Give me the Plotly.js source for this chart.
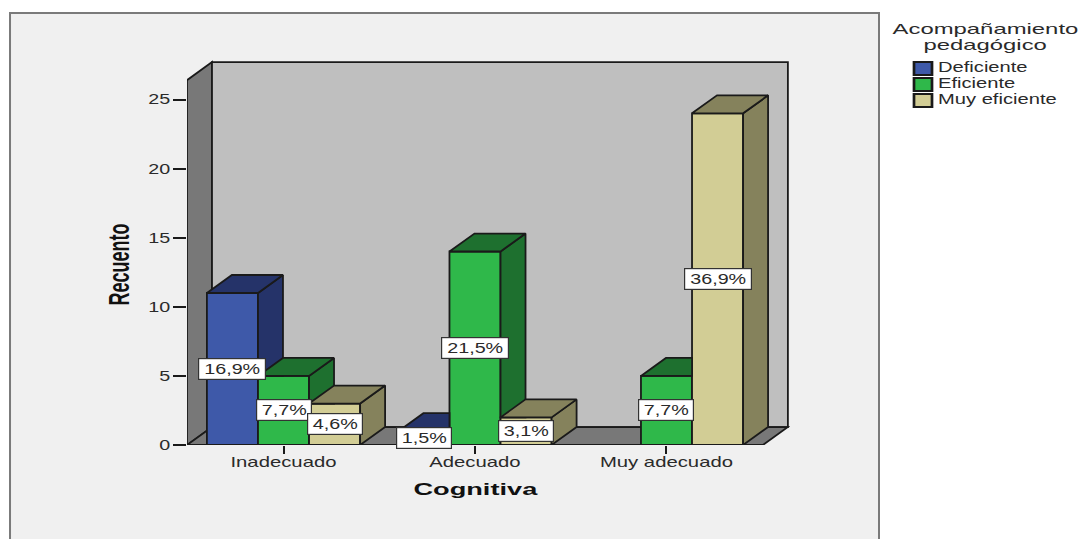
<!DOCTYPE html>
<html><head><meta charset="utf-8">
<script src="https://cdn.plot.ly/plotly-3.0.1.min.js"></script>
<style>html,body{margin:0;padding:0;background:#fff;overflow:hidden}
#c{width:1082px;height:539px}
.legendtext{font-size:14px !important;translate:-5px 0}
.legend .traces:nth-child(1){translate:0 -6px}
.legend .traces:nth-child(2){translate:0 -9px}
.legend .traces:nth-child(3){translate:0 -12px}
.legend .scrollbox{clip-path:none !important}
.xtitle{translate:-13px 0}
.ytitle{translate:0 12px}
</style></head><body><div id="c"></div>
<script>
// ---- data ----
const categories = ["Inadecuado", "Adecuado", "Muy adecuado"];
const seriesNames = ["Deficiente", "Eficiente", "Muy eficiente"];
const deficiente = [11, 1, 0];
const eficiente = [5, 14, 5];
const muyEficiente = [3, 2, 24];
const pctDeficiente = ["16,9%", "1,5%", ""];
const pctEficiente = ["7,7%", "21,5%", "7,7%"];
const pctMuyEficiente = ["4,6%", "3,1%", "36,9%"];
const frontColors = ["#3e59a9", "#2fb84a", "#d2cd95"];
const darkColors = ["#253369", "#1e702f", "#85825c"];

const values = [deficiente, eficiente, muyEficiente];
const pcts = [pctDeficiente, pctEficiente, pctMuyEficiente];
const catIdx = categories.map((_, i) => i);

// ---- geometry in axis units ----
const xMin = -0.504, xMax = 2.645, yMax = 27.858;
const barW = 0.8 / 3, dx = 0.1305, dy = 1.3;
const edge = "#1a1a1a", font = "Liberation Sans", txt = "#2a2a2a";

const data = [];
seriesNames.forEach((name, s) => data.push({
  type: "bar", name, x: catIdx, y: values[s],
  marker: {color: frontColors[s], line: {color: edge, width: 1.8}},
  hoverinfo: "y"
}));
function poly(xs, ys, color) {
  data.push({type: "scatter", mode: "lines", x: [...xs, xs[0]], y: [...ys, ys[0]], fill: "toself",
    fillcolor: color, line: {color: edge, width: 1.8}, showlegend: false, hoverinfo: "skip"});
}
catIdx.forEach(c => {
  seriesNames.forEach((_, s) => {
    const h = values[s][c];
    if (!h) return;
    const x0 = c - 1.5 * barW + s * barW, x1 = x0 + barW;
    const next = s < 2 ? values[s + 1][c] : 0;
    if (h > next) {
      poly([x1, x1 + dx, x1 + dx, x1], [h, h + dy, next || dy, next], darkColors[s]);
      poly([x0, x0 + dx, x1 + dx, x1], [h, h + dy, h + dy, h], darkColors[s]);
    } else {
      poly([x0, x0 + dx, x1, x1], [h, h + dy, h + dy, h], darkColors[s]);
    }
  });
});

const annotations = [];
seriesNames.forEach((_, s) => catIdx.forEach(c => {
  const label = pcts[s][c];
  if (!label) return;
  annotations.push({x: c - barW + s * barW, y: values[s][c] / 2, xref: "x", yref: "y", text: label, showarrow: false,
    width: 12 * label.length + 6, height: 20, align: "center", valign: "middle",
    bgcolor: "#fff", bordercolor: "#333", borderwidth: 1.2, borderpad: 0, font: {family: font, size: 14, color: txt}});
}));
const legendTitleLines = ["Acompañamiento", "pedagógico"];
legendTitleLines.forEach((line, i) => annotations.push({
  xref: "paper", yref: "paper", x: 1.325, y: i ? 1.0391 : 1.0818, xanchor: "center", yanchor: "middle",
  text: line, showarrow: false, font: {family: font, size: 14, color: txt}}));

const shapes = [
  {type: "rect", xref: "paper", yref: "paper", x0: -0.2935, x1: 1.1476, y0: 1.122, y1: -0.3, layer: "below",
   fillcolor: "#f0f0f0", line: {color: "#7a7a7a", width: 2}},
  {type: "path", layer: "below", fillcolor: "#787878", line: {color: edge, width: 1.8},
   path: `M${xMin} 0 L${xMin} 26.4 L${xMin + dx} 27.71 L${xMin + dx} ${dy} Z`},
  {type: "rect", layer: "below", fillcolor: "#bfbfbf", line: {color: edge, width: 1.8},
   x0: xMin + dx, x1: 2.634, y0: dy, y1: 27.71},
  {type: "path", layer: "below", fillcolor: "#787878", line: {color: edge, width: 1.8},
   path: `M${xMin} 0 L${xMin + dx} ${dy} L2.634 ${dy} L${2.634 - dx} 0 Z`}
];

const layout = {
  width: 1082, height: 539, showlegend: true,
  margin: {l: 187, r: 292, t: 60, b: 94, pad: 0},
  paper_bgcolor: "#fff", plot_bgcolor: "rgba(0,0,0,0)",
  barmode: "group", bargap: 0.2, bargroupgap: 0,
  xaxis: {type: "linear", range: [xMin, xMax], tickvals: catIdx, ticktext: categories, showgrid: false, zeroline: false,
    ticks: "outside", ticklen: 8, tickwidth: 1.5, tickcolor: edge, showline: false, ticklabelstandoff: -4,
    tickfont: {family: font, size: 14, color: txt},
    title: {text: "Cognitiva", standoff: 14, font: {family: font, size: 17, weight: 700, color: "#111"}}},
  yaxis: {range: [0, yMax], tickvals: [0, 5, 10, 15, 20, 25], showgrid: false, zeroline: false,
    ticks: "outside", ticklen: 13, tickwidth: 1.5, tickcolor: edge, showline: false,
    tickfont: {family: font, size: 14, color: txt},
    title: {text: "Recuento", standoff: 16, font: {family: font, size: 30, weight: 700, color: "#111"}}},
  legend: {x: 1.1874, y: 1.0, xanchor: "left", yanchor: "top", bgcolor: "rgba(0,0,0,0)", traceorder: "normal",
    font: {family: font, size: 10, color: txt}, itemwidth: 30},
  annotations, shapes, hovermode: false
};

// the reference's type is horizontally stretched: scale each text about an anchor of its own box
function stretch(selector, sx, sy, anchor) {
  document.querySelectorAll(selector).forEach(el => {
    const b = el.getBBox();
    const ax = anchor === "left" ? b.x : anchor === "right" ? b.x + b.width : b.x + b.width / 2;
    const ay = b.y + b.height / 2;
    const old = el.getAttribute("transform") || "";
    el.setAttribute("transform", `${old} translate(${ax},${ay}) scale(${sx},${sy}) translate(${-ax},${-ay})`);
  });
}
Plotly.newPlot("c", data, layout, {displayModeBar: false, responsive: false}).then(() => {
  stretch(".xtick text", 1.45, 1, "center");
  stretch(".ytick text", 1.41, 1, "right");
  stretch(".annotation-text", 1.41, 1, "center");
  stretch(".annotation[data-index='8'] .annotation-text", 1.21, 1, "center");
  stretch(".annotation[data-index='9'] .annotation-text", 1.21, 1, "center");
  stretch(".legendtext", 1.44, 1, "left");
  stretch(".xtitle", 1.6, 1, "center");
  stretch(".ytitle", 0.6, 1, "center");
  stretch(".legendpoints path", 1.5, 1.08, "center");
});
</script></body></html>
